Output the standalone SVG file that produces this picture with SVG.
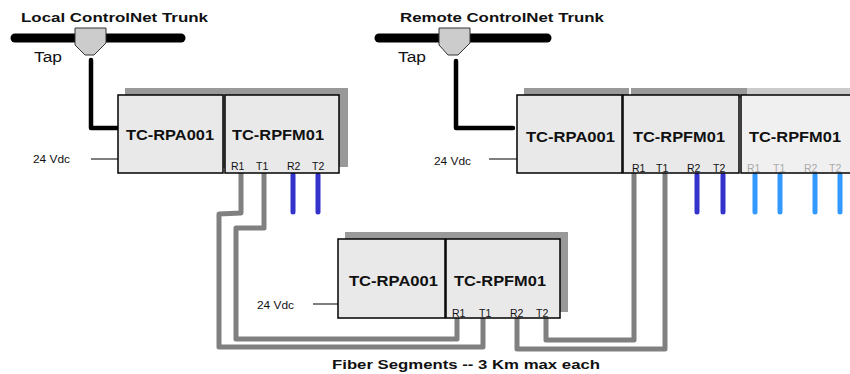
<svg xmlns="http://www.w3.org/2000/svg" width="850" height="374" viewBox="0 0 850 374">
<style>
text{font-family:"Liberation Sans",Arial,sans-serif;fill:#111}
.t{font-size:12.5px;font-weight:bold}
.m{font-size:14px;font-weight:bold}
.p{font-size:10.5px}
.v{font-size:10px}
.tap{font-size:14px}
.box{fill:#e9e9e9;stroke:#000;stroke-width:1.5}
.sh{fill:#999}
.shl{fill:#ccc}
.tr{fill:none;stroke:#000;stroke-width:9;stroke-linecap:round}
.drop{fill:none;stroke:#000;stroke-width:4.5;stroke-linecap:round;stroke-linejoin:round}
.tp{fill:#ccc;stroke:#333;stroke-width:1}
.pw{stroke:#000;stroke-width:1.2}
.f{fill:none;stroke:#808080;stroke-width:5;stroke-linejoin:round}
.b{stroke:#3333cc;stroke-width:5;stroke-linecap:round}
.l{stroke:#3399ff;stroke-width:5;stroke-linecap:round}
.g{fill:#aaa}
</style>
<g id="local-trunk">
<text class="t" x="21" y="22" textLength="187" lengthAdjust="spacingAndGlyphs">Local ControlNet Trunk</text>
<path class="tr" d="M15 38H181"/>
<path class="tp" d="M75 28H106V43L94 55H85L75 45Z"/>
<text class="tap" x="34" y="62" textLength="28" lengthAdjust="spacingAndGlyphs">Tap</text>
</g>
<g id="remote-trunk">
<text class="t" x="400" y="22" textLength="204" lengthAdjust="spacingAndGlyphs">Remote ControlNet Trunk</text>
<path class="tr" d="M379 38H547"/>
<path class="tp" d="M439 28H470V43L458 55H448L439 45Z"/>
<text class="tap" x="398" y="62" textLength="28" lengthAdjust="spacingAndGlyphs">Tap</text>
</g>
<g id="connectors">
<path class="drop" d="M91 60V128H118"/>
<path class="drop" d="M456 61V128H513"/>
<path class="pw" d="M91 159H118M489 159H517M313 304H338"/>
<path class="f" d="M241 173V213L219 214V347H483V318"/>
<path class="f" d="M264 173V228H236V339H457V318"/>
<path class="f" d="M517 318V349H665V173"/>
<path class="f" d="M546 318V340H634V173"/>
<path class="b" d="M293 175V212M318 175V212M697 175V212M723 175V212"/>
<path class="l" d="M755 175V212M780 175V212M815 175V212M840 175V212"/>
</g>
<g id="local-rpa">
<rect class="sh" x="125" y="88" width="105" height="80"/>
<rect class="box" x="118" y="95" width="105" height="78"/>
<text class="m" x="126" y="140" textLength="88" lengthAdjust="spacingAndGlyphs">TC-RPA001</text>
<text class="v" x="33" y="163" textLength="37" lengthAdjust="spacingAndGlyphs">24 Vdc</text>
</g>
<g id="local-rpfm">
<rect class="sh" x="230" y="88" width="118" height="79"/>
<rect class="box" x="225" y="95" width="114" height="78"/>
<text class="m" x="232" y="140" textLength="92" lengthAdjust="spacingAndGlyphs">TC-RPFM01</text>
<text class="p" x="231" y="170">R1</text><text class="p" x="256" y="170">T1</text><text class="p" x="287" y="170">R2</text><text class="p" x="312" y="170">T2</text>
</g>
<g id="remote-rpa">
<rect class="sh" x="524" y="88" width="105" height="10"/>
<rect class="box" x="517" y="95" width="105" height="78"/>
<text class="m" x="526" y="142" textLength="89" lengthAdjust="spacingAndGlyphs">TC-RPA001</text>
<text class="v" x="434" y="165" textLength="37" lengthAdjust="spacingAndGlyphs">24 Vdc</text>
</g>
<g id="remote-rpfm">
<rect class="sh" x="631" y="88" width="116" height="10"/>
<rect class="box" x="623" y="95" width="116" height="78"/>
<text class="m" x="633" y="142" textLength="92" lengthAdjust="spacingAndGlyphs">TC-RPFM01</text>
<text class="p" x="632" y="172">R1</text><text class="p" x="656" y="172">T1</text><text class="p" x="687" y="172">R2</text><text class="p" x="713" y="172">T2</text>
</g>
<g id="remote-rpfm-optional">
<rect class="shl" x="747" y="88" width="103" height="10"/>
<rect x="741" y="95" width="110" height="78" fill="#f0f0f0" stroke="#000" stroke-width="1.5"/>
<text class="m" x="749" y="142" textLength="92" lengthAdjust="spacingAndGlyphs">TC-RPFM01</text>
<text class="p g" x="747" y="172">R1</text><text class="p g" x="773" y="172">T1</text><text class="p g" x="804" y="172">R2</text><text class="p g" x="829" y="172">T2</text>
</g>
<g id="middle-rpa">
<rect class="sh" x="345" y="232" width="107" height="80"/>
<rect class="box" x="338" y="239" width="107" height="79"/>
<text class="m" x="349" y="286" textLength="89" lengthAdjust="spacingAndGlyphs">TC-RPA001</text>
<text class="v" x="257" y="309" textLength="37" lengthAdjust="spacingAndGlyphs">24 Vdc</text>
</g>
<g id="middle-rpfm">
<rect class="sh" x="452" y="232" width="116" height="80"/>
<rect class="box" x="446" y="239" width="114" height="79"/>
<text class="m" x="454" y="286" textLength="92" lengthAdjust="spacingAndGlyphs">TC-RPFM01</text>
<text class="p" x="452" y="317">R1</text><text class="p" x="479" y="317">T1</text><text class="p" x="510" y="317">R2</text><text class="p" x="536" y="317">T2</text>
</g>
<text class="t" x="332" y="369" textLength="268" lengthAdjust="spacingAndGlyphs">Fiber Segments -- 3 Km max each</text>
</svg>
